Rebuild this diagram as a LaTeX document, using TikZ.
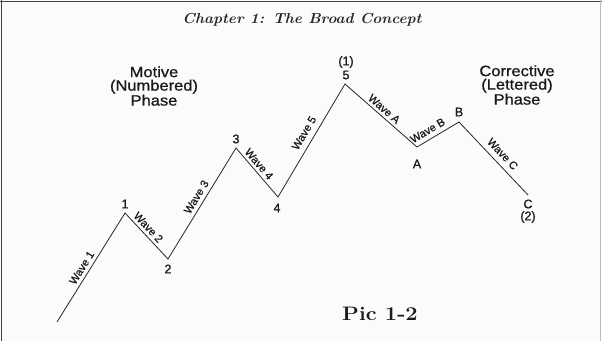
\documentclass[tikz,border=0pt]{standalone}
\usepackage{fontspec}
\setsansfont{Liberation Sans}
\newfontfamily\lblfont[FakeBold=0.7]{Liberation Sans}
\begin{document}
\begin{tikzpicture}[x=1pt,y=-1pt,
  wave/.style={draw=black!85, line width=0.8pt, line join=miter},
  wl/.style={font=\lblfont\fontsize{11}{11}\selectfont, inner sep=1pt, sloped, text=black!90},
  num/.style={font=\lblfont\fontsize{12.5}{12.5}\selectfont, inner sep=0pt, text=black!90},
  phase/.style={font=\lblfont\fontsize{15}{13.5}\selectfont, align=center, inner sep=0pt, text=black!90},
  frame/.style={line width=1.5pt, draw=black!75}]
\useasboundingbox (0,0) rectangle (602,341);
\fill[white!97!gray] (0,0) rectangle (602,341);
\draw[frame] (0,1.5) -- (602,1.5);
\draw[frame] (1.5,0) -- (1.5,341);
\draw[line width=0.6pt, draw=black!25] (600,0) -- (600,341);
% title
\node[font=\itshape\bfseries\fontsize{14.5}{15}\selectfont, text=black!85, inner sep=0pt] (title) at (302,20) {\scalebox{1.05}[1]{Chapter 1: The Broad Concept}};
\node[font=\bfseries\fontsize{19.5}{20}\selectfont, text=black!90, inner sep=0pt] (pic) at (380,314) {\scalebox{1.12}[1]{Pic 1-2}};
% phases
\node[phase] (motive) at (154,86) {\scalebox{1.1}[1]{Motive}\\\scalebox{1.1}[1]{(Numbered)}\\\scalebox{1.1}[1]{Phase}};
\node[phase] (corr) at (517,85) {\scalebox{1.1}[1]{Corrective}\\\scalebox{1.1}[1]{(Lettered)}\\\scalebox{1.1}[1]{Phase}};
% wave points
\coordinate (s) at (57,322);
\coordinate (p1) at (125,213);
\coordinate (p2) at (168,259);
\coordinate (p3) at (236,148);
\coordinate (p4) at (278,197);
\coordinate (p5) at (345,84);
\coordinate (pA) at (417,147);
\coordinate (pB) at (459,122);
\coordinate (pC) at (528,195);
\draw[wave] (s)
  -- node[wl, pos=0.46, above=2.5pt] {Wave 1} (p1)
  -- node[wl, pos=0.42, above=2pt] {Wave 2} (p2)
  -- node[wl, pos=0.52, above=3pt] {Wave 3} (p3)
  -- node[wl, pos=0.42, above=1.8pt] {Wave 4} (p4)
  -- node[wl, pos=0.52, above=5pt] {Wave 5} (p5)
  -- node[wl, pos=0.48, above=1.8pt] {Wave A} (pA)
  -- node[wl, pos=0.36, above=3.5pt] {Wave B} (pB)
  -- node[wl, pos=0.53, above=4.5pt] {Wave C} (pC);
% point labels
\node[num] (n1) at (125,204) {1};
\node[num] (n2) at (168,269) {2};
\node[num] (n3) at (236,139) {3};
\node[num] (n4) at (277,208) {4};
\node[num] (n5) at (346,75) {5};
\node[num] (n1b) at (346,62) {(1)};
\node[num] (nA) at (417,164) {A};
\node[num] (nB) at (459,112) {B};
\node[num] (nC) at (528,204) {C};
\node[num] (n2b) at (528,217) {(2)};
\end{tikzpicture}
\end{document}
